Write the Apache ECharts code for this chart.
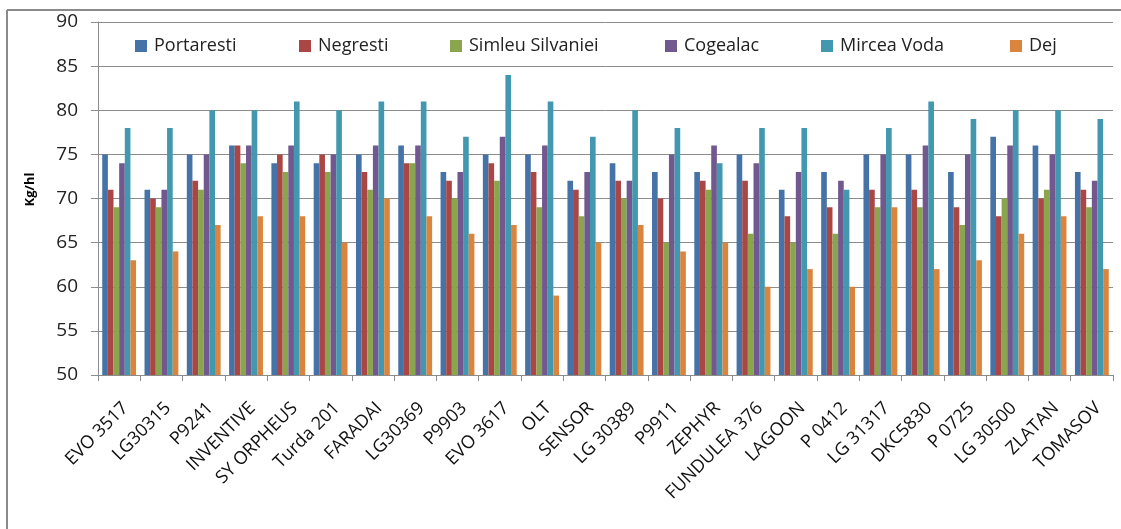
<!DOCTYPE html>
<html>
<head>
<meta charset="utf-8">
<script src="https://cdn.jsdelivr.net/npm/echarts@6/dist/echarts.min.js"></script>
<style>html,body{margin:0;padding:0;background:#fff}#c{width:1121px;height:529px}</style>
</head>
<body>
<div id="c"></div>
<script>
const categories = ["EVO 3517","LG30315","P9241","INVENTIVE","SY ORPHEUS","Turda 201","FARADAI","LG30369","P9903","EVO 3617","OLT","SENSOR","LG 30389","P9911","ZEPHYR","FUNDULEA 376","LAGOON","P 0412","LG 31317","DKC5830","P 0725","LG 30500","ZLATAN","TOMASOV"];
const portaresti = [75,71,75,76,74,74,75,76,73,75,75,72,74,73,73,75,71,73,75,75,73,77,76,73];
const negresti   = [71,70,72,76,75,75,73,74,72,74,73,71,72,70,72,72,68,69,71,71,69,68,70,71];
const simleu     = [69,69,71,74,73,73,71,74,70,72,69,68,70,65,71,66,65,66,69,69,67,70,71,69];
const cogealac   = [74,71,75,76,76,75,76,76,73,77,76,73,72,75,76,74,73,72,75,76,75,76,75,72];
const mirceaVoda = [78,78,80,80,81,80,81,81,77,84,81,77,80,78,74,78,78,71,78,81,79,80,80,79];
const dej        = [63,64,67,68,68,65,70,68,66,67,59,65,67,64,65,60,62,60,69,62,63,66,68,62];
const yTicks = {min:50, max:90, interval:5};
const seriesNames = ["Portaresti","Negresti","Simleu Silvaniei","Cogealac","Mircea Voda","Dej"];
const seriesData = [portaresti, negresti, simleu, cogealac, mirceaVoda, dej];
const seriesColors = ["#4572A7","#AA4643","#89A54E","#71588F","#4198AF","#DB843D"];
const legendLeft = [135, 299, 450, 665, 821, 1010];

const chart = echarts.init(document.getElementById('c'), null, {renderer:'canvas'});
const font = "'Open Sans', sans-serif";
chart.setOption({
  animation:false,
  backgroundColor:'#fff',
  textStyle:{fontFamily:font},
  graphic:[
    {type:'line', shape:{x1:7, y1:10, x2:7, y2:529}, style:{stroke:'#8a8a8a', lineWidth:2}},
    {type:'line', shape:{x1:7, y1:10, x2:1121, y2:10}, style:{stroke:'#8a8a8a', lineWidth:2}}
  ],
  legend:seriesNames.map((n,i)=>({
    top:34, left:legendLeft[i], padding:[3,0,3,0],
    itemWidth:12, itemHeight:12, icon:'rect',
    textStyle:{fontSize:18, color:'#222', fontFamily:font, padding:[0,0,0,2]},
    data:[n]
  })),
  grid:{left:98, right:8, top:22, bottom:154, containLabel:false},
  xAxis:{
    type:'category', data:categories,
    axisLine:{lineStyle:{color:'#8c8c8c'}},
    axisTick:{show:true, alignWithLabel:false, length:6, lineStyle:{color:'#8c8c8c'}},
    axisLabel:{interval:0, rotate:45, fontSize:18, color:'#111', margin:24, verticalAlign:'top', fontFamily:font}
  },
  yAxis:{
    type:'value', min:yTicks.min, max:yTicks.max, interval:yTicks.interval,
    name:'Kg/hl', nameLocation:'middle', nameGap:61, nameRotate:90,
    nameTextStyle:{fontSize:13, fontWeight:'bold', color:'#000', fontFamily:font, padding:[0,0,0,18]},
    axisLine:{show:true, lineStyle:{color:'#8c8c8c'}},
    axisTick:{show:true, length:7, lineStyle:{color:'#8c8c8c'}},
    axisLabel:{fontSize:19, color:'#222', margin:20, fontFamily:font},
    splitLine:{lineStyle:{color:'#8c8c8c'}}
  },
  series:seriesNames.map((n,i)=>({
    name:n, type:'bar', data:seriesData[i],
    itemStyle:{color:seriesColors[i]},
    barGap:'0%', barCategoryGap:'20%'
  }))
});
</script>
</body>
</html>
